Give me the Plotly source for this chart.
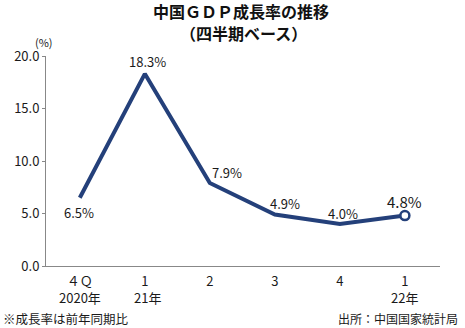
import plotly.graph_objects as go

quarters = ["４Ｑ", "1", "2", "3", "4", "1"]
years = ["2020年", "21年", "", "", "", "22年"]
growth = [6.5, 18.3, 7.9, 4.9, 4.0, 4.8]
labels = ["6.5%", "18.3%", "7.9%", "4.9%", "4.0%", "4.8%"]
y_ticks = [0, 5, 10, 15, 20]
y_ticklabels = ["0.0", "5.0", "10.0", "15.0", "20.0"]
title_lines = ["中国ＧＤＰ成長率の推移", "（四半期ベース）"]

FONT = "Noto Sans CJK JP"
NAVY = "#24407a"
TXT = "#1a1a1a"
xs = list(range(len(quarters)))

fig = go.Figure()
fig.add_trace(go.Scatter(
    x=xs, y=growth, mode="lines",
    line=dict(color=NAVY, width=4), hoverinfo="skip", showlegend=False,
))
fig.add_trace(go.Scatter(
    x=[xs[-1]], y=[growth[-1]], mode="markers",
    marker=dict(size=9, color="white", line=dict(color=NAVY, width=2.5)),
    hoverinfo="skip", showlegend=False,
))

# value labels
offsets = [(-1, -15), (3, 12), (17, 11), (10, 11), (3, 11), (0, 14)]
for i, (dx, dy) in enumerate(offsets):
    fig.add_annotation(
        x=xs[i], y=growth[i], text=labels[i], showarrow=False,
        xshift=dx, yshift=dy, xanchor="center", yanchor="middle",
        font=dict(family=FONT, size=15 if i == len(xs) - 1 else 13, color=TXT),
    )

# year labels (second row of x axis)
for i, yr in enumerate(years):
    if yr:
        fig.add_annotation(
            x=xs[i], y=0, yref="paper", yshift=-31, text=yr, showarrow=False,
            xshift=3 if i == 1 else 0,
            yanchor="middle", font=dict(family=FONT, size=13, color=TXT),
        )

for k, (line, ys) in enumerate(zip(title_lines, [45, 23])):
    fig.add_annotation(x=0.5, xref="paper", xshift=-2 if k == 0 else 0, y=1, yref="paper", yshift=ys,
                       xanchor="center", yanchor="middle", text=f"<b>{line}</b>",
                       borderpad=0,
                       showarrow=False, font=dict(family=FONT, size=16, color="#111"))
fig.add_annotation(x=0, xref="paper", xshift=-2, y=1, yref="paper", yshift=14,
                   xanchor="center", yanchor="middle",
                   text="(%)", showarrow=False, font=dict(family=FONT, size=11, color=TXT))
fig.add_annotation(x=0, xref="paper", xshift=-45, xanchor="left", y=0, yref="paper", yshift=-52,
                   yanchor="middle", text="※成長率は前年同期比", showarrow=False,
                   font=dict(family=FONT, size=12.5, color=TXT))
fig.add_annotation(x=1, xref="paper", xshift=20, xanchor="right", y=0, yref="paper", yshift=-52,
                   yanchor="middle", text="出所：中国国家統計局", showarrow=False,
                   font=dict(family=FONT, size=12, color=TXT))

fig.update_layout(
    width=465, height=328,
    margin=dict(l=46, r=25, t=56, b=62),
    paper_bgcolor="white", plot_bgcolor="white",
    font=dict(family=FONT, size=13, color=TXT),
    xaxis=dict(
        tickmode="array", tickvals=xs, ticktext=quarters,
        range=[-0.52, 5.54], showgrid=False, zeroline=False,
        showline=True, linecolor="#888", linewidth=1, ticks="",
        ticklabelstandoff=3,
        tickfont=dict(family=FONT, size=13, color=TXT),
    ),
    yaxis=dict(
        tickmode="array", tickvals=y_ticks, ticktext=y_ticklabels,
        range=[0, 20], showgrid=False, zeroline=False,
        showline=True, linecolor="#888", linewidth=1,
        ticks="outside", ticklen=3, tickcolor="#888",
        tickfont=dict(family=FONT, size=13, color=TXT),
    ),
)

fig.write_html("out.html")
